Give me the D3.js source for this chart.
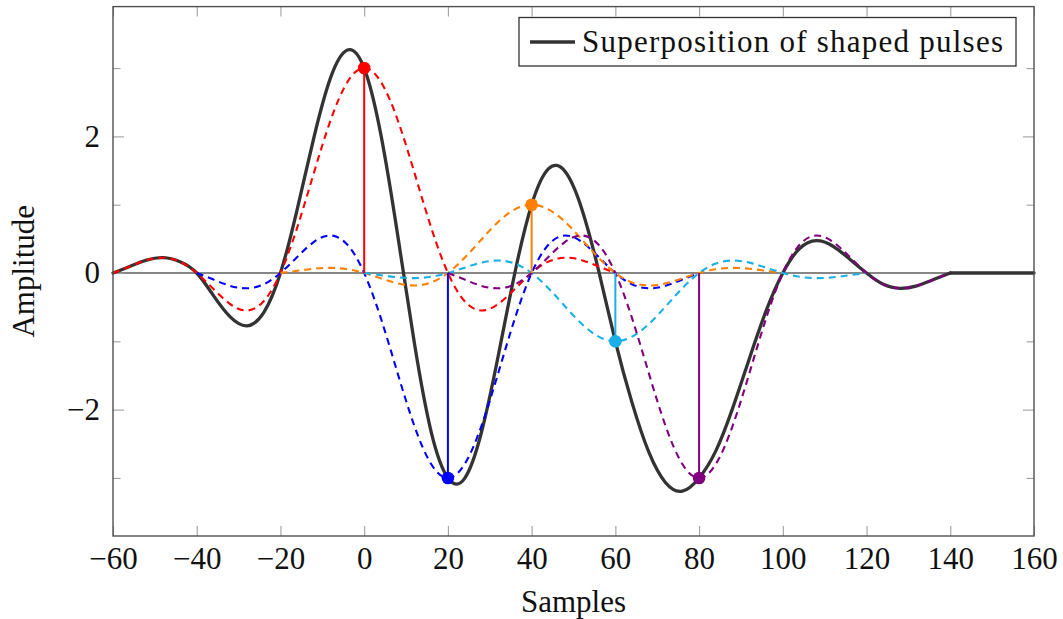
<!DOCTYPE html>
<html><head><meta charset="utf-8">
<script src="https://cdn.jsdelivr.net/npm/d3@7"></script>
<style>body{margin:0;background:#fff}svg{display:block}</style>
</head><body>
<svg id="chart" width="1063" height="619"></svg>
<script>
// ---- data ----
const xTicks = [-60, -40, -20, 0, 20, 40, 60, 80, 100, 120, 140, 160];
const yMajorTicks = [-2, 0, 2];
const yMinorTicks = [-3, -1, 1, 3];

const pulseNames = ["red", "blue", "orange", "cyan", "purple"];
const pulseCenters = [0, 20, 40, 60, 80];
const pulseAmps = [3, -3, 1, -1, -3];
const pulseColors = ["#ff0000", "#0000ff", "#ff8000", "#1aafe6", "#800080"];

// sample offsets (relative to each pulse centre)
const pulseOffsets = [-60,-56,-52,-48,-44,-40,-36,-32,-28,-24,-20,-16,-12,-8,-4,0,4,8,12,16,20,24,28,32,36,40,44,48,52,56,60];

const redY    = [0,0.096,0.188,0.224,0.166,0,-0.235,-0.455,-0.549,-0.413,0,0.665,1.469,2.240,2.797,3,2.797,2.240,1.469,0.665,0,-0.413,-0.549,-0.455,-0.235,0,0.166,0.224,0.188,0.096,0];
const blueY   = [0,-0.096,-0.188,-0.224,-0.166,0,0.235,0.455,0.549,0.413,0,-0.665,-1.469,-2.240,-2.797,-3,-2.797,-2.240,-1.469,-0.665,0,0.413,0.549,0.455,0.235,0,-0.166,-0.224,-0.188,-0.096,0];
const orangeY = [0,0.032,0.063,0.075,0.055,0,-0.078,-0.152,-0.183,-0.138,0,0.222,0.490,0.747,0.932,1,0.932,0.747,0.490,0.222,0,-0.138,-0.183,-0.152,-0.078,0,0.055,0.075,0.063,0.032,0];
const cyanY   = [0,-0.032,-0.063,-0.075,-0.055,0,0.078,0.152,0.183,0.138,0,-0.222,-0.490,-0.747,-0.932,-1,-0.932,-0.747,-0.490,-0.222,0,0.138,0.183,0.152,0.078,0,-0.055,-0.075,-0.063,-0.032,0];
const purpleY = [0,-0.096,-0.188,-0.224,-0.166,0,0.235,0.455,0.549,0.413,0,-0.665,-1.469,-2.240,-2.797,-3,-2.797,-2.240,-1.469,-0.665,0,0.413,0.549,0.455,0.235,0,-0.166,-0.224,-0.188,-0.096,0];
const pulseValues = [redY, blueY, orangeY, cyanY, purpleY];

const sumX = [-60,-56,-52,-48,-44,-40,-36,-32,-28,-24,-20,-16,-12,-8,-4,0,4,8,12,16,20,24,28,32,36,40,44,48,52,56,60,64,68,72,76,80,84,88,92,96,100,104,108,112,116,120,124,128,132,136,140];
const sumY = [0,0.096,0.188,0.224,0.166,0,-0.331,-0.643,-0.773,-0.579,0,0.932,1.987,2.864,3.265,3,2.022,0.556,-1.029,-2.325,-3,-3.006,-2.335,-1.218,0.004,1,1.524,1.485,0.935,0.034,-1,-1.901,-2.623,-3.070,-3.193,-3,-2.604,-1.982,-1.254,-0.555,0,0.358,0.474,0.392,0.203,0,-0.166,-0.224,-0.188,-0.096,0];
const tailX = [140, 160];
const tailY = [0, 0];

const legendLabel = "Superposition of shaped pulses";
const xLabel = "Samples";
const yLabel = "Amplitude";

// ---- layout ----
const L = 113, R = 1034, T = 6.6, B = 536;
const FONT = "'Liberation Serif', 'Times New Roman', serif";
const svg = d3.select("#chart");
const x = d3.scaleLinear().domain([-60, 160]).range([L, R]);
const y = d3.scaleLinear().domain([-3.85, 3.9]).range([B, T]);

const minus = s => String(s).replace("-", "\u2212");

// zero line
svg.append("line")
  .attr("x1", x(-60)).attr("x2", x(160)).attr("y1", y(0)).attr("y2", y(0))
  .attr("stroke", "#5e5e5e").attr("stroke-width", 1.7);

// axes
function styleAxis(g) {
  g.select(".domain").remove();
  g.selectAll(".tick line").attr("stroke", "#a0a0a0").attr("stroke-width", 1.1);
  g.selectAll(".tick text").attr("font-family", FONT).attr("font-size", 31).attr("fill", "#111");
}
svg.append("g").attr("transform", `translate(0,${B})`)
  .call(d3.axisBottom(x).tickValues(xTicks).tickSizeInner(-10).tickSizeOuter(0).tickPadding(11).tickFormat(minus))
  .call(styleAxis);
svg.append("g").attr("transform", `translate(0,${T})`)
  .call(d3.axisTop(x).tickValues(xTicks).tickSizeInner(-10).tickSizeOuter(0).tickFormat(""))
  .call(styleAxis);
svg.append("g").attr("transform", `translate(${L},0)`)
  .call(d3.axisLeft(y).tickValues(yMajorTicks).tickSizeInner(-11).tickSizeOuter(0).tickPadding(13).tickFormat(minus))
  .call(styleAxis);
svg.append("g").attr("transform", `translate(${L},0)`)
  .call(d3.axisLeft(y).tickValues(yMinorTicks).tickSizeInner(-7.5).tickSizeOuter(0).tickFormat(""))
  .call(styleAxis);
svg.append("g").attr("transform", `translate(${R},0)`)
  .call(d3.axisRight(y).tickValues(yMajorTicks).tickSizeInner(-11).tickSizeOuter(0).tickFormat(""))
  .call(styleAxis);
svg.append("g").attr("transform", `translate(${R},0)`)
  .call(d3.axisRight(y).tickValues(yMinorTicks).tickSizeInner(-7.5).tickSizeOuter(0).tickFormat(""))
  .call(styleAxis);

const line = d3.line().x(d => x(d[0])).y(d => y(d[1])).curve(d3.curveNatural);
const straight = d3.line().x(d => x(d[0])).y(d => y(d[1]));

// superposition (black)
svg.append("path")
  .datum(sumX.map((v, i) => [v, sumY[i]]))
  .attr("d", line).attr("fill", "none")
  .attr("stroke", "#333333").attr("stroke-width", 3.3).attr("stroke-linejoin", "round").attr("stroke-linecap", "round");
svg.append("path")
  .datum(tailX.map((v, i) => [v, tailY[i]]))
  .attr("d", straight).attr("fill", "none")
  .attr("stroke", "#333333").attr("stroke-width", 3.3).attr("stroke-linecap", "round");

// dashed pulses
pulseValues.forEach((vals, k) => {
  svg.append("path")
    .datum(pulseOffsets.map((o, i) => [pulseCenters[k] + o, vals[i]]))
    .attr("d", line).attr("fill", "none")
    .attr("stroke", pulseColors[k]).attr("stroke-width", 2.1)
    .attr("stroke-dasharray", "7,5");
});

// stems and markers
pulseCenters.forEach((c, k) => {
  svg.append("line")
    .attr("x1", x(c)).attr("x2", x(c)).attr("y1", y(0)).attr("y2", y(pulseAmps[k]))
    .attr("stroke", pulseColors[k]).attr("stroke-width", 2);
});
pulseCenters.forEach((c, k) => {
  svg.append("circle")
    .attr("cx", x(c)).attr("cy", y(pulseAmps[k])).attr("r", 6.3)
    .attr("fill", pulseColors[k]);
});

// frame
svg.append("rect").attr("x", L).attr("y", T).attr("width", R - L).attr("height", B - T)
  .attr("fill", "none").attr("stroke", "#505050").attr("stroke-width", 1.4);

// legend
const lg = svg.append("g");
lg.append("rect").attr("x", 519).attr("y", 17.5).attr("width", 497).attr("height", 48.5)
  .attr("fill", "#fff").attr("stroke", "#333").attr("stroke-width", 1.3);
lg.append("line").attr("x1", 530).attr("x2", 575).attr("y1", 42).attr("y2", 42)
  .attr("stroke", "#333333").attr("stroke-width", 3.3);
lg.append("text").attr("x", 582).attr("y", 52).attr("font-family", FONT).attr("font-size", 31)
  .attr("fill", "#111").attr("textLength", 421).attr("lengthAdjust", "spacing").text(legendLabel);

// axis labels
svg.append("text").attr("x", (L + R) / 2).attr("y", 612).attr("text-anchor", "middle")
  .attr("font-family", FONT).attr("font-size", 31).attr("fill", "#111").text(xLabel);
svg.append("text").attr("transform", `translate(34,${(T + B) / 2}) rotate(-90)`).attr("text-anchor", "middle")
  .attr("font-family", FONT).attr("font-size", 31).attr("fill", "#111").text(yLabel);
</script>
</body></html>
